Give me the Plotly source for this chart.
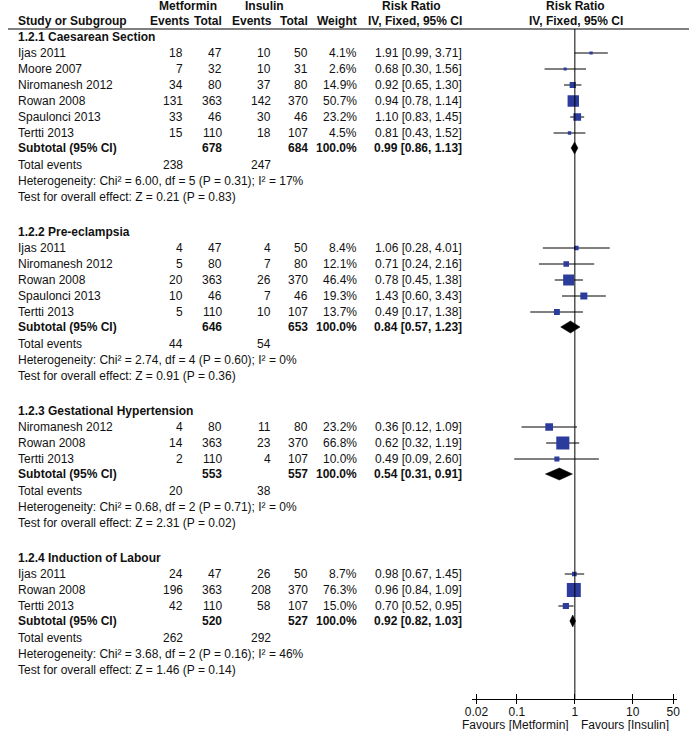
import plotly.graph_objects as go
import math

# ---------------- data ----------------
group_titles = ["1.2.1 Caesarean Section", "1.2.2 Pre-eclampsia",
                "1.2.3 Gestational Hypertension", "1.2.4 Induction of Labour"]

g1_studies = ["Ijas 2011", "Moore 2007", "Niromanesh 2012", "Rowan 2008", "Spaulonci 2013", "Tertti 2013"]
g1_met_ev = [18, 7, 34, 131, 33, 15]
g1_met_tot = [47, 32, 80, 363, 46, 110]
g1_ins_ev = [10, 10, 37, 142, 30, 18]
g1_ins_tot = [50, 31, 80, 370, 46, 107]
g1_weight = [4.1, 2.6, 14.9, 50.7, 23.2, 4.5]
g1_rr = [1.91, 0.68, 0.92, 0.94, 1.10, 0.81]
g1_lo = [0.99, 0.30, 0.65, 0.78, 0.83, 0.43]
g1_hi = [3.71, 1.56, 1.30, 1.14, 1.45, 1.52]

g2_studies = ["Ijas 2011", "Niromanesh 2012", "Rowan 2008", "Spaulonci 2013", "Tertti 2013"]
g2_met_ev = [4, 5, 20, 10, 5]
g2_met_tot = [47, 80, 363, 46, 110]
g2_ins_ev = [4, 7, 26, 7, 10]
g2_ins_tot = [50, 80, 370, 46, 107]
g2_weight = [8.4, 12.1, 46.4, 19.3, 13.7]
g2_rr = [1.06, 0.71, 0.78, 1.43, 0.49]
g2_lo = [0.28, 0.24, 0.45, 0.60, 0.17]
g2_hi = [4.01, 2.16, 1.38, 3.43, 1.38]

g3_studies = ["Niromanesh 2012", "Rowan 2008", "Tertti 2013"]
g3_met_ev = [4, 14, 2]
g3_met_tot = [80, 363, 110]
g3_ins_ev = [11, 23, 4]
g3_ins_tot = [80, 370, 107]
g3_weight = [23.2, 66.8, 10.0]
g3_rr = [0.36, 0.62, 0.49]
g3_lo = [0.12, 0.32, 0.09]
g3_hi = [1.09, 1.19, 2.60]

g4_studies = ["Ijas 2011", "Rowan 2008", "Tertti 2013"]
g4_met_ev = [24, 196, 42]
g4_met_tot = [47, 363, 110]
g4_ins_ev = [26, 208, 58]
g4_ins_tot = [50, 370, 107]
g4_weight = [8.7, 76.3, 15.0]
g4_rr = [0.98, 0.96, 0.70]
g4_lo = [0.67, 0.84, 0.52]
g4_hi = [1.45, 1.09, 0.95]

sub_met_tot = [678, 646, 553, 520]
sub_ins_tot = [684, 653, 557, 527]
sub_rr = [0.99, 0.84, 0.54, 0.92]
sub_lo = [0.86, 0.57, 0.31, 0.82]
sub_hi = [1.13, 1.23, 0.91, 1.03]
tot_met_ev = [238, 44, 20, 262]
tot_ins_ev = [247, 54, 38, 292]
het_chi = ["6.00", "2.74", "0.68", "3.68"]
het_df = [5, 4, 2, 2]
het_p = ["0.31", "0.60", "0.71", "0.16"]
het_i2 = [17, 0, 0, 46]
z_val = ["0.21", "0.91", "2.31", "1.46"]
z_p = ["0.83", "0.36", "0.02", "0.14"]

tick_vals = [0.02, 0.1, 1, 10, 50]
tick_text = ["0.02", "0.1", "1", "10", "50"]

groups = [
    (g1_studies, g1_met_ev, g1_met_tot, g1_ins_ev, g1_ins_tot, g1_weight, g1_rr, g1_lo, g1_hi),
    (g2_studies, g2_met_ev, g2_met_tot, g2_ins_ev, g2_ins_tot, g2_weight, g2_rr, g2_lo, g2_hi),
    (g3_studies, g3_met_ev, g3_met_tot, g3_ins_ev, g3_ins_tot, g3_weight, g3_rr, g3_lo, g3_hi),
    (g4_studies, g4_met_ev, g4_met_tot, g4_ins_ev, g4_ins_tot, g4_weight, g4_rr, g4_lo, g4_hi),
]

# ---------------- layout constants ----------------
W, H = 692, 731
FONT = "Liberation Sans, Arial, sans-serif"
FS = 12
BLUE = "#2B3C9C"
X_EV1, X_TOT1, X_EV2, X_TOT2, X_WT, X_RR = 178, 217, 267, 305, 355, 461
X_LEFT = 10
AXIS_Y = 699
LINE_Y = 29
PX_PER_DEC = 200 / math.log10(2500)
X0_PX, X1_PX = 472, 680
xrange_log = [math.log10(0.02) - 4 / PX_PER_DEC, math.log10(50) + 4 / PX_PER_DEC]

annotations = []


def txt(x, y, s, anchor="left", bold=False, size=FS):
    if bold:
        s = "<b>" + s + "</b>"
    annotations.append(dict(x=x / W, y=y, xref="paper", yref="y", text=s,
                            xanchor=anchor, yanchor="middle", showarrow=False,
                            borderpad=0, borderwidth=0,
                            font=dict(family=FONT, size=size, color="#111")))


# headers
txt(183, 6, "Metformin", "center", True)
txt(261, 6, "Insulin", "center", True)
txt(410, 6, "Risk Ratio", "center", True)
txt(577, 6, "Risk Ratio", "center", True)
txt(X_LEFT, 21, "Study or Subgroup", "left", True)
txt(185, 21, "Events", "right", True)
txt(217, 21, "Total", "right", True)
txt(268, 21, "Events", "right", True)
txt(305, 21, "Total", "right", True)
txt(X_WT, 21, "Weight", "right", True)
txt(414, 21, "IV, Fixed, 95% CI", "center", True)
txt(577, 21, "IV, Fixed, 95% CI", "center", True)

fig = go.Figure()

y = 37
for gi, g in enumerate(groups):
    studies, mev, mtot, iev, itot, wt, rr, lo, hi = g
    txt(X_LEFT, y, group_titles[gi], "left", True)
    ys = []
    for i in range(len(studies)):
        y += 16
        ys.append(y)
        txt(X_LEFT, y, studies[i])
        txt(X_EV1, y, str(mev[i]), "right")
        txt(X_TOT1, y, str(mtot[i]), "right")
        txt(X_EV2, y, str(iev[i]), "right")
        txt(X_TOT2, y, str(itot[i]), "right")
        txt(X_WT, y, f"{wt[i]:.1f}%", "right")
        txt(X_RR, y, f"{rr[i]:.2f} [{lo[i]:.2f}, {hi[i]:.2f}]", "right")
    fig.add_trace(go.Scatter(
        x=rr, y=ys, mode="markers",
        marker=dict(symbol="square", color=BLUE, opacity=1,
                    size=[max(3, 1.6 * math.sqrt(w)) for w in wt], line=dict(width=0)),
        error_x=dict(type="data", symmetric=False,
                     array=[h - r for h, r in zip(hi, rr)],
                     arrayminus=[r - l for r, l in zip(rr, lo)],
                     color="black", thickness=1, width=0),
        showlegend=False, hoverinfo="skip"))
    # subtotal
    y += 15
    txt(X_LEFT, y, "Subtotal (95% CI)", "left", True)
    txt(X_TOT1, y, str(sub_met_tot[gi]), "right", True)
    txt(X_TOT2, y, str(sub_ins_tot[gi]), "right", True)
    txt(X_WT, y, "100.0%", "right", True)
    txt(X_RR, y, f"{sub_rr[gi]:.2f} [{sub_lo[gi]:.2f}, {sub_hi[gi]:.2f}]", "right", True)
    hh = 6
    fig.add_trace(go.Scatter(
        x=[sub_lo[gi], sub_rr[gi], sub_hi[gi], sub_rr[gi], sub_lo[gi]],
        y=[y, y - hh, y, y + hh, y], mode="lines", fill="toself",
        fillcolor="black", line=dict(color="black", width=0.5),
        showlegend=False, hoverinfo="skip"))
    y += 17
    txt(X_LEFT, y, "Total events")
    txt(X_EV1, y, str(tot_met_ev[gi]), "right")
    txt(X_EV2, y, str(tot_ins_ev[gi]), "right")
    y += 16
    txt(X_LEFT, y, f"Heterogeneity: Chi² = {het_chi[gi]}, df = {het_df[gi]} (P = {het_p[gi]}); I² = {het_i2[gi]}%")
    y += 16
    txt(X_LEFT, y, f"Test for overall effect: Z = {z_val[gi]} (P = {z_p[gi]})")
    y += 35

# favours labels
txt(570, 725, "Favours [Metformin]", "right")
txt(582, 725, "Favours [Insulin]", "left")

shapes = [
    dict(type="line", xref="paper", yref="y", x0=0, x1=1, y0=LINE_Y, y1=LINE_Y,
         line=dict(color="#7f7f7f", width=2)),
    dict(type="line", xref="x", yref="y", x0=1, x1=1, y0=LINE_Y, y1=AXIS_Y,
         line=dict(color="black", width=1)),
]

axis_pos = 1 - AXIS_Y / H
dom = [X0_PX / W, X1_PX / W]
fig.update_layout(
    width=W, height=H, margin=dict(l=0, r=0, t=0, b=0),
    paper_bgcolor="white", plot_bgcolor="white",
    annotations=annotations, shapes=shapes,
    xaxis=dict(type="log", domain=dom, range=xrange_log, anchor="free", position=axis_pos,
               showline=True, linecolor="black", linewidth=1, showgrid=False, zeroline=False,
               ticks="outside", ticklen=4, tickcolor="black", tickwidth=1,
               ticklabelstandoff=-2,
               tickvals=tick_vals, ticktext=tick_text,
               tickfont=dict(family=FONT, size=FS, color="#111")),
    xaxis2=dict(type="log", domain=dom, range=xrange_log, anchor="free", position=axis_pos,
                overlaying="x", showline=False, showgrid=False, zeroline=False,
                ticks="inside", ticklen=5, tickcolor="black", tickwidth=1,
                tickvals=tick_vals, showticklabels=False),
    yaxis=dict(range=[H, 0], domain=[0, 1], visible=False, showgrid=False, zeroline=False),
)
# invisible trace to activate the overlay axis carrying the inner tick halves
fig.add_trace(go.Scatter(x=[1], y=[AXIS_Y], xaxis="x2", mode="markers",
                         marker=dict(opacity=0), showlegend=False, hoverinfo="skip"))

fig.write_html("out.html", config={"displayModeBar": False},
               post_script="document.body.style.margin='0';document.body.style.overflow='hidden';")
